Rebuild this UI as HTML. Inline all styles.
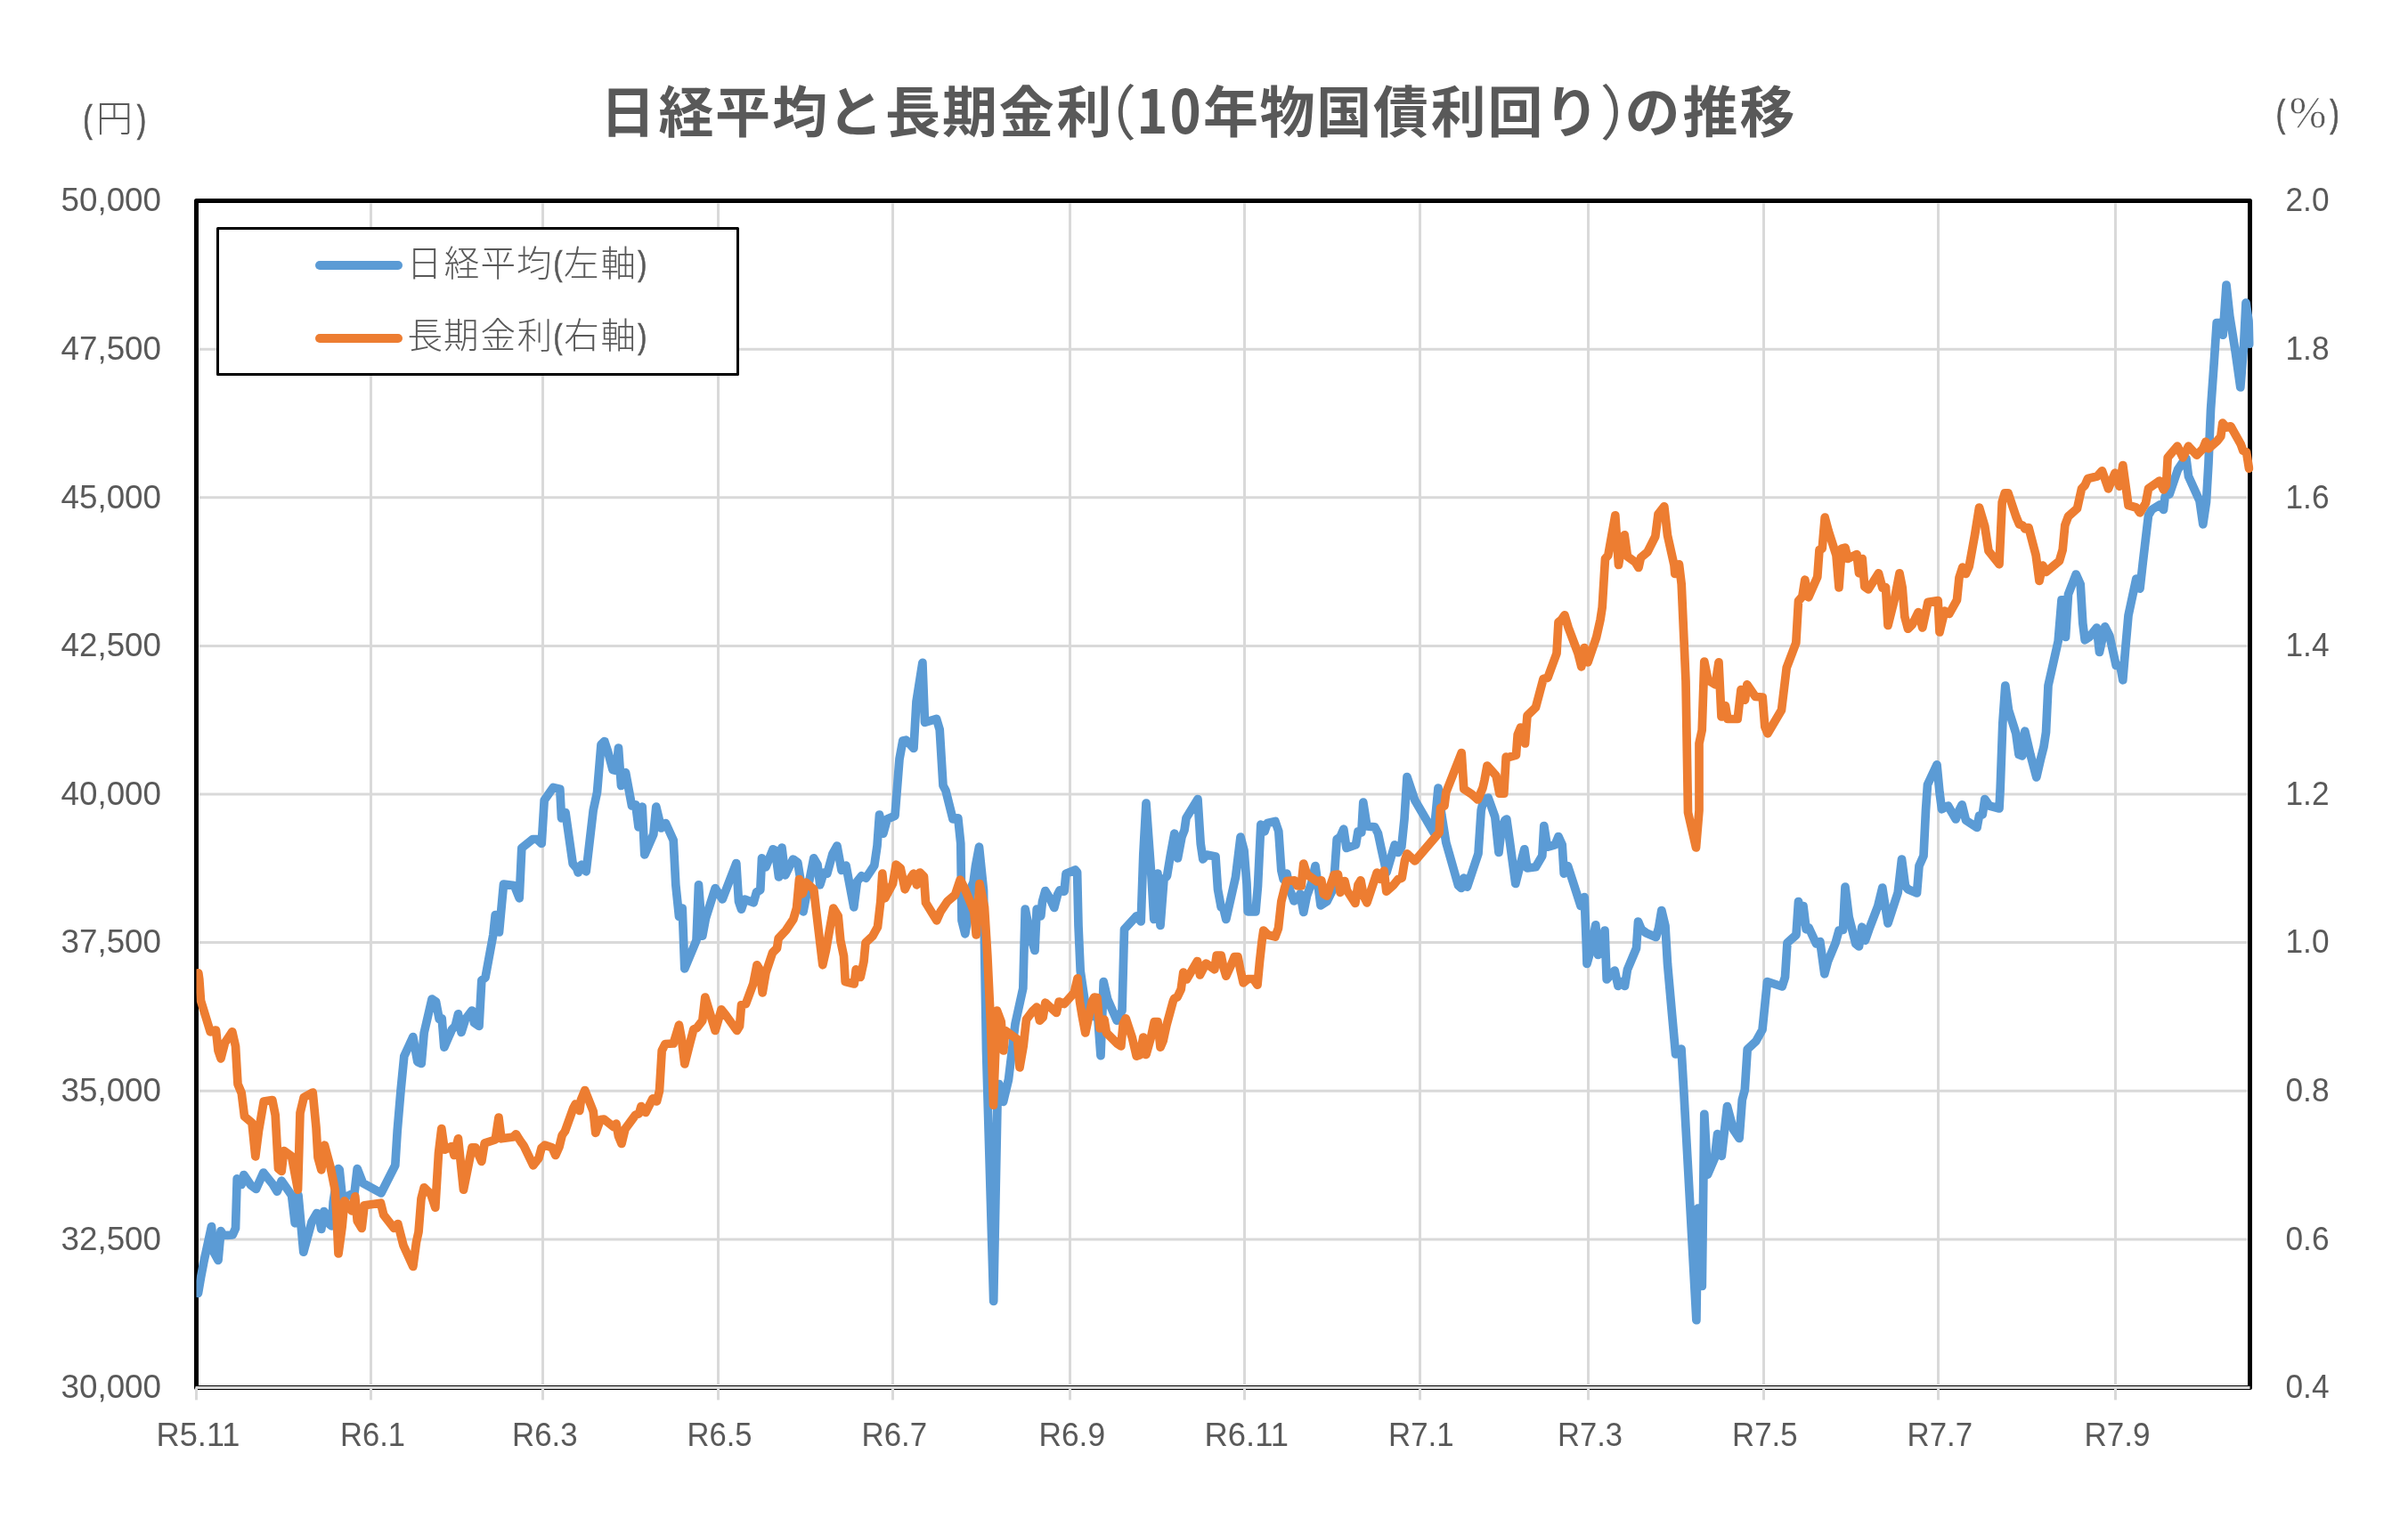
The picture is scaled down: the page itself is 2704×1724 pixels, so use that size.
<!DOCTYPE html>
<html lang="ja"><head><meta charset="utf-8"><title>日経平均と長期金利(10年物国債利回り)の推移</title>
<style>
html,body{margin:0;padding:0;background:#fff;}
body{width:2704px;height:1724px;overflow:hidden;}
svg{display:block;will-change:transform;}
text{font-family:"Liberation Sans","Noto Sans CJK JP",sans-serif;fill:#595959;}
.ax{font-size:37px;}
.ttl{font-family:"Noto Sans CJK JP","Liberation Sans",sans-serif;font-weight:700;font-size:62px;}
.par{font-weight:400;font-size:67px;}
.lg{font-family:"Noto Sans CJK JP","Liberation Sans",sans-serif;font-weight:300;font-size:39.5px;}
</style></head><body>
<svg width="2704" height="1724" viewBox="0 0 2704 1724">
<rect width="2704" height="1724" fill="#fff"/>

<g stroke="#d9d9d9" stroke-width="3" fill="none">
<line x1="223.5" y1="392.125" x2="2523.5" y2="392.125"/>
<line x1="223.5" y1="558.75" x2="2523.5" y2="558.75"/>
<line x1="223.5" y1="725.375" x2="2523.5" y2="725.375"/>
<line x1="223.5" y1="892" x2="2523.5" y2="892"/>
<line x1="223.5" y1="1058.62" x2="2523.5" y2="1058.62"/>
<line x1="223.5" y1="1225.25" x2="2523.5" y2="1225.25"/>
<line x1="223.5" y1="1391.88" x2="2523.5" y2="1391.88"/>
<line x1="416.5" y1="228.5" x2="416.5" y2="1555"/>
<line x1="609.5" y1="228.5" x2="609.5" y2="1555"/>
<line x1="806.5" y1="228.5" x2="806.5" y2="1555"/>
<line x1="1002.5" y1="228.5" x2="1002.5" y2="1555"/>
<line x1="1201.5" y1="228.5" x2="1201.5" y2="1555"/>
<line x1="1397.5" y1="228.5" x2="1397.5" y2="1555"/>
<line x1="1594.5" y1="228.5" x2="1594.5" y2="1555"/>
<line x1="1783.5" y1="228.5" x2="1783.5" y2="1555"/>
<line x1="1980.5" y1="228.5" x2="1980.5" y2="1555"/>
<line x1="2176.5" y1="228.5" x2="2176.5" y2="1555"/>
<line x1="2375.5" y1="228.5" x2="2375.5" y2="1555"/>
</g>
<rect x="220.5" y="225.5" width="2306" height="1333" fill="none" stroke="#000" stroke-width="5" stroke-linejoin="round"/>
<g stroke="#d9d9d9" stroke-width="3" fill="none"><line x1="219.5" y1="1558.5" x2="2526.5" y2="1558.5"/><line x1="220.5" y1="1558.5" x2="220.5" y2="1572.4"/><line x1="416.5" y1="1558.5" x2="416.5" y2="1572.4"/><line x1="609.5" y1="1558.5" x2="609.5" y2="1572.4"/><line x1="806.5" y1="1558.5" x2="806.5" y2="1572.4"/><line x1="1002.5" y1="1558.5" x2="1002.5" y2="1572.4"/><line x1="1201.5" y1="1558.5" x2="1201.5" y2="1572.4"/><line x1="1397.5" y1="1558.5" x2="1397.5" y2="1572.4"/><line x1="1594.5" y1="1558.5" x2="1594.5" y2="1572.4"/><line x1="1783.5" y1="1558.5" x2="1783.5" y2="1572.4"/><line x1="1980.5" y1="1558.5" x2="1980.5" y2="1572.4"/><line x1="2176.5" y1="1558.5" x2="2176.5" y2="1572.4"/><line x1="2375.5" y1="1558.5" x2="2375.5" y2="1572.4"/></g>
<clipPath id="pc"><rect x="220.5" y="200" width="2310" height="1380"/></clipPath>
<g fill="none" stroke-width="9.7" stroke-linejoin="round" stroke-linecap="round" clip-path="url(#pc)">
<polyline stroke="#5b9bd5" points="222.5,1452.5 225.5,1435 228.8,1417.5 237.5,1377.5 240,1406.2 245,1415.5 248,1382.5 250.8,1387.5 261.2,1387 264.5,1379.5 266.2,1323.8 271.2,1330.5 273.8,1319.5 281.8,1331.2 287.5,1335.5 295.8,1317 306.2,1330 311.2,1338.2 316.2,1326.2 327.5,1342.5 331.2,1373.8 335,1342.5 340.8,1406.2 350,1372.5 355.8,1362.5 357.5,1363.8 360.8,1380.5 363.8,1360.5 367,1364.5 370,1375 372.5,1377 374.2,1350 380,1312.5 381.2,1313.8 384.5,1346.2 395,1341.2 398,1340 401.2,1312.5 407.5,1328.8 428,1340 443.8,1308.8 446.2,1270 450,1225 453.8,1186.2 463.8,1164.5 468.8,1192.5 473.2,1194.5 476.2,1160 485,1122 489.5,1125 493.2,1144.5 496.2,1143.8 498.8,1176.2 507.5,1156.2 511.2,1152.5 514.5,1138.8 518,1159.5 522.5,1145 530,1135 532.5,1148.8 538,1152.5 540.8,1101.2 545,1098 553.8,1050 556.2,1027.5 558.8,1028 560.5,1047 565.5,993 577.5,994.5 583.2,1008.8 585.8,952.5 598.2,942.5 603,942.5 608.2,947.5 611.2,898.8 621.2,884.5 628.8,886.2 630.5,918.8 635,912.5 643.2,970 647.5,975 649.2,980 653,971.2 658.2,978.8 666.2,910 670.5,890 675,836.2 678.8,832.5 682.5,843.8 688,864.5 692,865.5 694.5,840 697.5,882.5 702.5,867.5 709.5,905 713.8,903.8 717,928.8 721.2,906.2 723.8,960 733.8,937 736.8,906.2 742.5,930 747.5,924.5 756.2,943.8 758.8,993.8 762.5,1029.5 766.2,1020 768.8,1088 782,1056.2 784.5,993.8 788.8,1051.2 792.5,1031.2 803.2,997.5 811.2,1010 826.8,969.5 829.5,1012.5 832.5,1021.2 836.2,1010 846.2,1013.8 849.5,1002 853.8,999.5 855.5,963.8 860,973.8 868,953.8 870.5,955 874.5,985 878,952 881.8,983 890.5,965 895.8,968.8 898.8,987.5 902,1023.8 913.8,963.8 918,971.2 920.8,993.8 925,980 928.8,981.2 935,958.8 940,950 945,977.5 950,972 958.8,1018.8 962.5,990 967.5,983.8 972.5,986.2 981.8,972 985,950 987.5,915 991.8,936.2 996.2,920 1005,916.2 1010,852.5 1013.8,832 1017.5,831.2 1026,840.5 1029,788 1035.9,744.3 1038.5,811.4 1051.6,807.4 1055.2,819.5 1059,882.3 1062,888 1070,920 1075.8,918.8 1078.8,947.5 1080,1033.8 1083.8,1048.8 1087.5,1026.2 1091.2,995 1093,991.2 1095.5,972.5 1099.5,951.2 1104.5,1000 1107.5,1180 1115.7,1461.5 1120,1240 1121.8,1217.5 1126.5,1237.5 1132.5,1212.5 1140,1150 1148.8,1110 1151.2,1021 1157.5,1052.5 1162,1067.5 1164.2,1021.2 1168.8,1028.8 1170.5,1012.5 1173.8,1000.5 1178.8,1008.8 1183.8,1019.5 1187.5,1005 1190,1000 1195,1001.2 1197,981.2 1207.5,977 1209.6,979.5 1211,1040 1213.2,1090.4 1219.1,1130.8 1226,1141 1232.8,1142.5 1236,1185.6 1239.2,1102.5 1243.8,1122.5 1254.2,1146.2 1260,1135 1262.5,1043.8 1276.2,1028.8 1281.2,1035 1283.8,960 1287,902 1293,985 1295.8,1032.5 1300,981.2 1303,1039.5 1307,987.5 1310.5,983.8 1314.2,961.2 1318.8,936.2 1322.5,963.8 1327,940 1330,932.5 1332,918.8 1345,897.5 1348.2,947.5 1350.8,965 1355,960 1365,962 1367.5,998.8 1371.2,1018.8 1373.8,1020 1376.8,1032.5 1387.5,985 1393,940 1397,955 1400,992.5 1401.2,1023.8 1410,1023.8 1412.5,995 1415.8,926.2 1420,933.8 1423.2,924.5 1432,922.5 1435.8,933.8 1438.8,977.5 1441.2,987.5 1445,981.2 1448.8,1000 1453,1012 1457.5,1008.8 1460,1003.8 1463.8,1024.5 1467.5,1006.2 1472.5,992.5 1477,972.5 1480,993.8 1483,1017 1490,1012.5 1496.2,1000 1498.8,977.5 1501.2,942.5 1505,940 1508.8,931.2 1512,952.5 1522.5,948.8 1525,933.8 1528.8,935 1530.8,901.2 1535,928 1543.8,928.8 1547.5,936.2 1551.2,953.8 1557,980 1566.2,948.8 1570,957.5 1573.8,951.2 1577,920 1580,872.5 1588.8,898.8 1610,935 1612.5,911.2 1615,885 1618.8,915 1623.8,946.2 1637.5,994.5 1640.8,997.5 1643.8,986.2 1647.5,996.2 1660,958.8 1663.2,910 1666.2,897.5 1671.2,896.2 1678.8,917.5 1683,957.5 1686.2,930 1690,921.2 1691.8,920 1695,942.5 1701.8,992.5 1707.5,970 1711.8,953.8 1715,975 1724.5,973.8 1731.8,961.2 1733.8,927.5 1737.5,951.2 1746.2,948.8 1750,939.5 1754.2,948.8 1756.2,981.2 1760.5,972.5 1766.2,990 1775,1017.5 1779.2,1007.5 1781.2,1057.5 1782,1082.5 1786.2,1067.5 1791.8,1038.8 1794.5,1072.5 1797.5,1070 1802,1045 1804.2,1100 1813.2,1090 1817,1107.5 1820.5,1102.5 1824.5,1107.5 1827.5,1088.8 1837.5,1065 1839.5,1035 1843.2,1043.8 1848.8,1048 1859.5,1052.5 1862.5,1042.5 1865.8,1022.5 1870,1040 1872.5,1082.5 1877.5,1138.8 1881.6,1184 1888,1178 1890.7,1224 1904.9,1482.7 1906.6,1357.2 1911.3,1444.4 1913.8,1251.3 1917.5,1319.4 1925.4,1300.8 1928.6,1273.6 1933.3,1298.3 1939.5,1242.6 1946.4,1268.6 1953.1,1278.5 1956.3,1235.2 1959.3,1224 1962.2,1178.5 1971.8,1169.5 1979,1156.5 1984.5,1102.5 2001.2,1108 2004.5,1097.5 2007,1058.8 2017,1050 2019.5,1012.5 2022.5,1035 2025,1017.5 2028.2,1043.8 2031.2,1042 2039.5,1060 2043.8,1057.5 2048.8,1093.8 2052.5,1080 2061.2,1058.8 2065,1045 2069.5,1044.5 2072,996.2 2076.2,1030 2083.8,1060 2087.5,1063 2090.8,1041.2 2094.5,1056.2 2098.8,1043.8 2108.8,1017.5 2113.8,997 2120,1037 2131.2,1002.5 2135.5,965 2139.5,995 2142.5,998.8 2152.5,1003 2155,972.5 2160,961.2 2162.5,910 2164.5,881.2 2175,858.8 2178,890 2180.5,908.8 2187.5,905 2196.2,920 2200,910 2203.2,903.8 2207.5,921.2 2220,929.5 2222.5,916.2 2226.2,915 2228.8,897.5 2233.8,905 2245,908 2246.2,885 2248.8,812.5 2251.8,770 2255.5,797.5 2263.8,823.8 2267,847.5 2270.8,848.8 2273.8,821.2 2280,847.5 2286.8,873 2291.2,853.8 2295,838.8 2297.5,822.5 2300,770 2311.2,720 2315,673.8 2317.5,673.8 2319.5,715.5 2322.5,667.5 2331.2,645 2336.2,656.2 2338.8,700 2341.2,718.8 2346.2,715.5 2354.5,705 2357.5,732.5 2363.8,703.8 2368.8,713.8 2376.2,747.5 2380.8,747.5 2383.8,763.8 2386.8,727.5 2390,691.2 2398.8,650 2403,661.2 2406.2,632.5 2412.5,578.8 2416.2,572.5 2425,567 2429.5,572.5 2431.2,557.5 2436.2,555 2445.5,527.5 2451.2,518.8 2455,515 2457.5,535 2470,562.5 2473.8,588.8 2477.5,563.8 2480,520 2482.5,460 2486.2,407.5 2489.2,362.5 2492.5,362.5 2496.2,376.2 2500,320 2503.8,355 2510,393.8 2515.8,435 2519.5,390 2522,340 2525,360 2526.2,386.2"/>
<polyline stroke="#ed7d31" points="222.8,1092.8 223.8,1100 225.5,1123.8 236.2,1158.8 242.5,1157 245,1180 248,1188.8 252.5,1171.2 260.8,1158.8 264.5,1175 267,1217.5 271.2,1227.5 274.5,1253.8 283,1261.2 286.8,1298.8 290.5,1270 296.2,1237 305.8,1235.5 309.2,1252.5 312.5,1312.5 316.2,1315.5 318.8,1292.5 327.5,1298.8 334.5,1336.2 337,1250 341.2,1232.5 351.2,1227 355,1266.2 357,1300 360.8,1313.8 364.5,1286.2 371.2,1311.2 376.2,1336.2 378,1365 380,1408 384.2,1377.5 386.8,1348.8 395,1360 398.8,1343.8 401.2,1371.2 406.2,1379.5 409.2,1353.8 427.5,1351.2 430.8,1364.5 442.5,1379.5 446.8,1374.5 453,1398.8 463.8,1422.5 467.5,1395 470,1383.8 473,1346.2 476.2,1333.8 483.8,1341.2 488.8,1356.2 492.5,1295 495.8,1267.5 499.2,1291.2 507.5,1287.5 510,1297.5 514.5,1278.8 520.5,1336.2 530,1288.8 533.8,1288.8 540.8,1304.5 544.2,1283.8 556.2,1280 560,1255 563,1278.8 576.2,1277 579.5,1273.8 585,1282.5 588.2,1286.8 598.8,1308.8 605,1300.8 608,1289.5 611.8,1286.2 620,1288.8 623.8,1297.5 628,1288 631.2,1275 634.5,1270.5 643.8,1244.5 646.2,1240 650.8,1247.5 652.5,1235 656.8,1224.5 666.2,1248.2 668.8,1272.5 674.2,1257.5 678.2,1257 688.8,1265.5 692,1262 694.5,1276.2 698,1284.5 702,1268 713.8,1252 717.5,1250.8 720,1242.5 725,1249.5 733,1233.8 737.5,1237 740.5,1225 743.2,1180 747,1172.5 756.2,1172 759.5,1161.2 762.5,1151.2 765.5,1167.5 768.8,1195 774.5,1172.5 778.8,1156.2 782.5,1154.5 788.8,1146.2 791.8,1120 803.2,1157.5 810,1133.8 815,1140 827.5,1157.5 830.5,1152.5 832.5,1128.8 837.5,1127.5 845.8,1105 850,1083.8 853,1088.8 856.2,1115 860,1092.5 867.5,1070 872.5,1065 874.2,1053.8 882.5,1045 890.8,1032.5 894.5,1020 897.5,987.5 901.2,1003.8 905,991.2 913.8,998.8 916.2,1020 923.8,1083.8 927.5,1067.5 935.8,1020 941.2,1028.8 943.8,1056.2 947.5,1073.8 949.2,1102.5 959.2,1105 961.2,1088.8 966.2,1097.5 970,1080 972,1058.8 980,1051.2 985.5,1041.2 988.8,1012.5 990.8,981.2 993.8,1008.8 1002.5,992.5 1006.2,971.2 1011.2,975 1016.2,998.8 1021.2,988 1025.8,981.2 1029.5,993.8 1033,980 1037.5,984.5 1039.5,1013.8 1051.8,1033.8 1056.2,1023.8 1063.8,1012.5 1072.5,1005 1078.2,988 1082.5,996.2 1093.8,1023.8 1096.2,1050 1100,992.5 1105.5,1018.8 1108.8,1072.5 1112.5,1150 1115.5,1241.2 1118,1175 1119.5,1135 1124.2,1147.5 1126.8,1180 1128.8,1157.5 1142.5,1167.5 1145,1198.8 1149.2,1175 1152.5,1145 1160,1135 1164.2,1131.2 1167.5,1146.2 1171.2,1142.5 1173.8,1126.2 1186.2,1137.5 1189.2,1125 1195,1127.5 1206.2,1115 1210,1098.8 1212.5,1125 1215,1140 1218.8,1160 1226.2,1125 1228.8,1120 1232,1120.5 1235,1155 1240,1145 1242.5,1160 1255,1172.5 1258.8,1175 1261.2,1150 1264.2,1143.8 1271.2,1165 1276.2,1186.2 1280,1185 1283.8,1165 1287,1184.5 1292.5,1165 1296.2,1147.5 1300,1147.5 1303,1176.2 1306.2,1168.8 1310,1151.2 1317.5,1123.8 1318.8,1121.2 1322,1120 1326.2,1111.2 1328.8,1092 1332.5,1100 1344.5,1079.5 1347.5,1095 1354.2,1082 1363.8,1088.8 1366.2,1073 1371.2,1073 1373.8,1086.2 1376.8,1096.2 1382.5,1083.8 1386.2,1074.5 1390,1074.5 1393,1090 1396.2,1103.8 1401.2,1099.5 1407.5,1099.5 1412,1106.2 1414.5,1080 1417,1057.5 1418.8,1045 1423.8,1050 1432,1052 1435.5,1042.5 1438.8,1012.5 1442.5,997.5 1445,989.5 1453.8,988.8 1456.8,995 1461.2,995 1463.8,970 1467.5,982 1478.8,990 1483.8,988.8 1486.2,1003.8 1490,1006.2 1498,982.5 1502.5,982 1505,1002.5 1510,989.5 1512.5,1000 1521.8,1014.5 1525,993.8 1528,988.8 1531.2,1006.2 1535,1013.8 1546.2,980 1550,987.5 1554.2,978 1556.8,1001.2 1565,993.8 1570,987.5 1574.2,986.2 1577.5,966.2 1580,958.8 1588.8,967 1616.2,935 1617.5,907.5 1622,905 1623.8,890 1641.2,845.5 1643.8,886.2 1652.5,891.8 1659.5,898 1665,885 1667,876.2 1670,860 1680,871.2 1683.8,891.2 1688.8,891.2 1691.2,850 1692,851.2 1702.5,848 1704.2,825 1707.5,817 1712.5,835 1715,803.8 1724.5,794.5 1733,762.5 1738,761.2 1748,733.8 1750,698.8 1753.2,696.2 1757,690.8 1761.2,705 1772,733.8 1775.8,748.8 1779.2,727.5 1783,743.8 1792.5,716.2 1797,696.2 1799.2,682 1802.5,627.5 1805.8,623.8 1813.8,578.8 1817.5,634.5 1820.5,616.2 1824.2,600.8 1827.5,625 1836.2,631.2 1840,637.5 1842.5,626.2 1850,620 1858.8,602.5 1862,577.5 1868.8,568.8 1872.5,601.2 1880,635 1880.8,644.5 1885.5,633.8 1888.2,656.2 1890.8,715 1893,765 1895.5,912.5 1904.5,952 1908,910 1908,835 1911.2,820 1913.8,743 1918,763.8 1926.2,768.8 1930,743.8 1933,805 1937.5,792.5 1940,807.5 1951.2,807.5 1955,774.5 1959.5,786.2 1961.8,768.8 1971.2,782.5 1979.2,783 1981.8,816.2 1985,823.8 2000.5,797.5 2006.2,750 2016.8,722 2019.5,675 2023.8,670 2026.8,651.2 2030.8,670.8 2040.8,648 2043,617.5 2046.2,616.2 2049.2,581.2 2053.2,596.2 2062,623.8 2065,660 2068.2,616.2 2072,615 2075,627.5 2085,622.5 2087.5,643.8 2091.2,627.5 2093.8,658.8 2098,662 2109.5,643.8 2113.8,660 2117.5,659.5 2120,702.5 2127.5,672.5 2133,643.8 2136.2,660 2138.8,692.5 2142.5,706.2 2147.5,701.2 2154.2,687.5 2158.8,705 2165,676.2 2176.2,674.5 2178,710 2183.8,686.2 2188.8,689.5 2197.5,673.8 2200,648.8 2203.8,637 2207.5,644.5 2211.2,636.2 2217.5,601.2 2222.5,570 2228.8,591.2 2233,618.8 2245,633.8 2248.2,563.8 2251.2,553.8 2255,553.8 2263.8,580 2267.5,588.8 2271.2,590 2273.8,593.8 2278,592.5 2286.2,623.8 2290,652.5 2293.8,635 2297.5,642.5 2312.5,630 2316.2,617.5 2318.8,590 2322.5,580 2332.5,571.2 2337.5,548.8 2341.2,545 2344.5,537.5 2355,535 2360.5,528.8 2367.5,548.8 2375,531.2 2380,546.2 2383.8,522.5 2390,567.5 2398.8,570 2403,575.8 2409.5,565 2412.5,548.8 2425,540 2429.5,550 2432.5,545 2434.2,513.8 2445,501.2 2451.2,513.8 2457.5,501.2 2466.8,511.2 2473.8,503.8 2476.8,496.2 2480,503.8 2490,495 2493.8,490 2495.8,475 2500,480 2505,478.8 2516.2,498.8 2518.8,506.2 2522.5,507.5 2525.5,526.2"/>
</g>
<rect x="244.5" y="256.5" width="584" height="164" fill="#fff" stroke="#000" stroke-width="3" stroke-linejoin="round"/>
<g fill="none" stroke-width="10" stroke-linecap="round"><line x1="359" y1="298" x2="447" y2="298" stroke="#5b9bd5"/><line x1="359" y1="380" x2="447" y2="380" stroke="#ed7d31"/></g>
<text class="lg"><tspan x="456.8 498.8 539.4 580.0" y="309.5">日経平均</tspan><tspan x="632.9 674.4" y="309.5">左軸</tspan></text>
<text transform="translate(621.5,309.3) scale(0.79,1)" style="font-size:38px;stroke:#595959;stroke-width:0.7px">(</text><text transform="translate(716.3,309.3) scale(0.79,1)" style="font-size:38px;stroke:#595959;stroke-width:0.7px">)</text>
<text class="lg"><tspan x="457.4 497.9 539.4 580.7" y="391.3">長期金利</tspan><tspan x="633.2 674.4" y="391.3">右軸</tspan></text>
<text transform="translate(621.5,391) scale(0.79,1)" style="font-size:38px;stroke:#595959;stroke-width:0.7px">(</text><text transform="translate(716.3,391) scale(0.79,1)" style="font-size:38px;stroke:#595959;stroke-width:0.7px">)</text>
<text class="ax" x="181" y="237.3" text-anchor="end" textLength="112.5" lengthAdjust="spacingAndGlyphs">50,000</text>
<text class="ax" x="2566.5" y="237.3" textLength="49" lengthAdjust="spacingAndGlyphs">2.0</text>
<text class="ax" x="181" y="403.925" text-anchor="end" textLength="112.5" lengthAdjust="spacingAndGlyphs">47,500</text>
<text class="ax" x="2566.5" y="403.925" textLength="49" lengthAdjust="spacingAndGlyphs">1.8</text>
<text class="ax" x="181" y="570.55" text-anchor="end" textLength="112.5" lengthAdjust="spacingAndGlyphs">45,000</text>
<text class="ax" x="2566.5" y="570.55" textLength="49" lengthAdjust="spacingAndGlyphs">1.6</text>
<text class="ax" x="181" y="737.175" text-anchor="end" textLength="112.5" lengthAdjust="spacingAndGlyphs">42,500</text>
<text class="ax" x="2566.5" y="737.175" textLength="49" lengthAdjust="spacingAndGlyphs">1.4</text>
<text class="ax" x="181" y="903.8" text-anchor="end" textLength="112.5" lengthAdjust="spacingAndGlyphs">40,000</text>
<text class="ax" x="2566.5" y="903.8" textLength="49" lengthAdjust="spacingAndGlyphs">1.2</text>
<text class="ax" x="181" y="1070.42" text-anchor="end" textLength="112.5" lengthAdjust="spacingAndGlyphs">37,500</text>
<text class="ax" x="2566.5" y="1070.42" textLength="49" lengthAdjust="spacingAndGlyphs">1.0</text>
<text class="ax" x="181" y="1237.05" text-anchor="end" textLength="112.5" lengthAdjust="spacingAndGlyphs">35,000</text>
<text class="ax" x="2566.5" y="1237.05" textLength="49" lengthAdjust="spacingAndGlyphs">0.8</text>
<text class="ax" x="181" y="1403.67" text-anchor="end" textLength="112.5" lengthAdjust="spacingAndGlyphs">32,500</text>
<text class="ax" x="2566.5" y="1403.67" textLength="49" lengthAdjust="spacingAndGlyphs">0.6</text>
<text class="ax" x="181" y="1570.3" text-anchor="end" textLength="112.5" lengthAdjust="spacingAndGlyphs">30,000</text>
<text class="ax" x="2566.5" y="1570.3" textLength="49" lengthAdjust="spacingAndGlyphs">0.4</text>
<text class="ax" x="175.5" y="1624.3" textLength="94" lengthAdjust="spacingAndGlyphs">R5.11</text>
<text class="ax" x="382" y="1624.3" textLength="73" lengthAdjust="spacingAndGlyphs">R6.1</text>
<text class="ax" x="575" y="1624.3" textLength="73.5" lengthAdjust="spacingAndGlyphs">R6.3</text>
<text class="ax" x="771.5" y="1624.3" textLength="73" lengthAdjust="spacingAndGlyphs">R6.5</text>
<text class="ax" x="967.5" y="1624.3" textLength="73.5" lengthAdjust="spacingAndGlyphs">R6.7</text>
<text class="ax" x="1166.5" y="1624.3" textLength="74.5" lengthAdjust="spacingAndGlyphs">R6.9</text>
<text class="ax" x="1352.5" y="1624.3" textLength="94.5" lengthAdjust="spacingAndGlyphs">R6.11</text>
<text class="ax" x="1559" y="1624.3" textLength="73.5" lengthAdjust="spacingAndGlyphs">R7.1</text>
<text class="ax" x="1749" y="1624.3" textLength="73" lengthAdjust="spacingAndGlyphs">R7.3</text>
<text class="ax" x="1945" y="1624.3" textLength="73.5" lengthAdjust="spacingAndGlyphs">R7.5</text>
<text class="ax" x="2141.5" y="1624.3" textLength="73.5" lengthAdjust="spacingAndGlyphs">R7.7</text>
<text class="ax" x="2340.5" y="1624.3" textLength="74" lengthAdjust="spacingAndGlyphs">R7.9</text>
<text class="ttl" y="148.7"><tspan x="674.0 739.4 803.1 867.3 929.5 993.9 1057.9 1121.8 1186.6">日経平均と長期金利</tspan><tspan class="par" x="1209.3" y="151">（</tspan></text><text class="ttl" transform="translate(1276.25,149.7) scale(0.95,1.07)" style="font-size:63px" x="0 39.1" y="0">10</text><text class="ttl" y="148.7"><tspan x="1351.1 1414.6 1478.3 1542.0 1606.8 1670.4 1733.7">年物国債利回り</tspan><tspan class="par" x="1796.5" y="151">）</tspan><tspan x="1824.4 1889.6 1953.5" y="148.7">の推移</tspan></text>
<text transform="translate(93.25,148.4) scale(0.75,1)" style="font-size:42px;stroke:#595959;stroke-width:0.7px">(</text><text x="108" y="147.5" style="font-family:'Noto Sans CJK JP',sans-serif;font-weight:300;font-size:41px">円</text><text transform="translate(153.8,148.4) scale(0.75,1)" style="font-size:42px;stroke:#595959;stroke-width:0.7px">)</text>
<text transform="translate(2555.75,141.9) scale(0.75,1)" style="font-size:42px;stroke:#595959;stroke-width:0.7px">(</text><text x="2570.8" y="142.9" style="font-family:'Liberation Serif',serif;font-size:50px;stroke:#fff;stroke-width:0.6px">%</text><text transform="translate(2616.2,141.9) scale(0.75,1)" style="font-size:42px;stroke:#595959;stroke-width:0.7px">)</text>
</svg></body></html>
